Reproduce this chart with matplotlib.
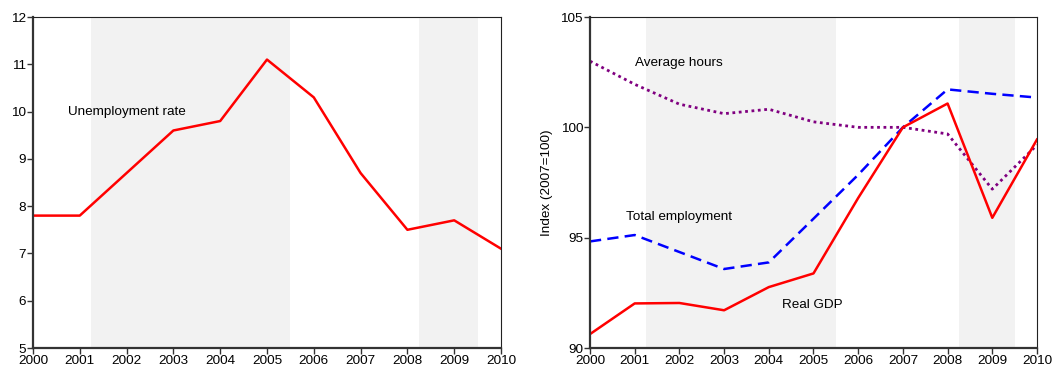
import matplotlib
matplotlib.use('Agg')
import matplotlib.pyplot as plt

plt.rcParams['font.family'] = ['Liberation Sans', 'DejaVu Sans']

years = list(range(2000, 2011))
unemployment = [7.8, 7.8, 8.7, 9.6, 9.8, 11.1, 10.3, 8.7, 7.5, 7.7, 7.1]
avg_hours = [103.0, 101.95, 101.05, 100.62, 100.82, 100.25, 100.0, 100.0, 99.7, 97.2, 99.2]
employment = [94.83, 95.12, 94.35, 93.58, 93.88, 95.86, 97.85, 100.0, 101.72, 101.52, 101.35]
real_gdp = [90.63, 92.02, 92.04, 91.71, 92.76, 93.38, 96.8, 100.0, 101.08, 95.9, 99.45]

# recession bands (start, end)
recessions = [(2001.25, 2005.5), (2008.25, 2009.5)]

FS = 9.7

fig = plt.figure(figsize=(10.53, 3.69), dpi=100)
ax1 = fig.add_axes([0.0313, 0.0569, 0.4445, 0.897])
ax2 = fig.add_axes([0.5603, 0.0569, 0.4245, 0.897])


def style_axes(ax):
    for start, end in recessions:
        ax.axvspan(start, end, color='#f2f2f2', lw=0, zorder=0)
    ax.set_xlim(2000, 2010)
    ax.set_xticks(years)
    ax.tick_params(direction='out', length=4, width=1, labelsize=FS, pad=1,
                   colors='#333333', labelcolor='black')
    for side in ['left', 'bottom']:
        ax.spines[side].set_linewidth(1.6)
        ax.spines[side].set_color('#333333')
    for side in ['top', 'right']:
        ax.spines[side].set_linewidth(0.8)
        ax.spines[side].set_color('#222222')


# unemployment
style_axes(ax1)
ax1.plot(years, unemployment, color='#ff0000', lw=1.8)
ax1.set_ylim(5, 12)
ax1.set_yticks(range(5, 13))
ax1.text(2000.75, 10.0, 'Unemployment rate', fontsize=FS, va='center', ha='left')

# indices
style_axes(ax2)
ax2.plot(years, avg_hours, color='#800080', lw=2.0, linestyle=(0, (1, 1.3)))
ax2.plot(years, employment, color='#0000ff', lw=1.8, linestyle=(0, (4.5, 2.5)))
ax2.plot(years, real_gdp, color='#ff0000', lw=1.8)
ax2.set_ylim(90, 105)
ax2.set_yticks([90, 95, 100, 105])
ax2.set_ylabel('Index (2007=100)', fontsize=FS, labelpad=5)
ax2.text(2001.0, 102.9, 'Average hours', fontsize=FS, va='center', ha='left')
ax2.text(2000.8, 95.95, 'Total employment', fontsize=FS, va='center', ha='left')
ax2.text(2004.3, 91.95, 'Real GDP', fontsize=FS, va='center', ha='left')

fig.savefig('out.png', dpi=100)
